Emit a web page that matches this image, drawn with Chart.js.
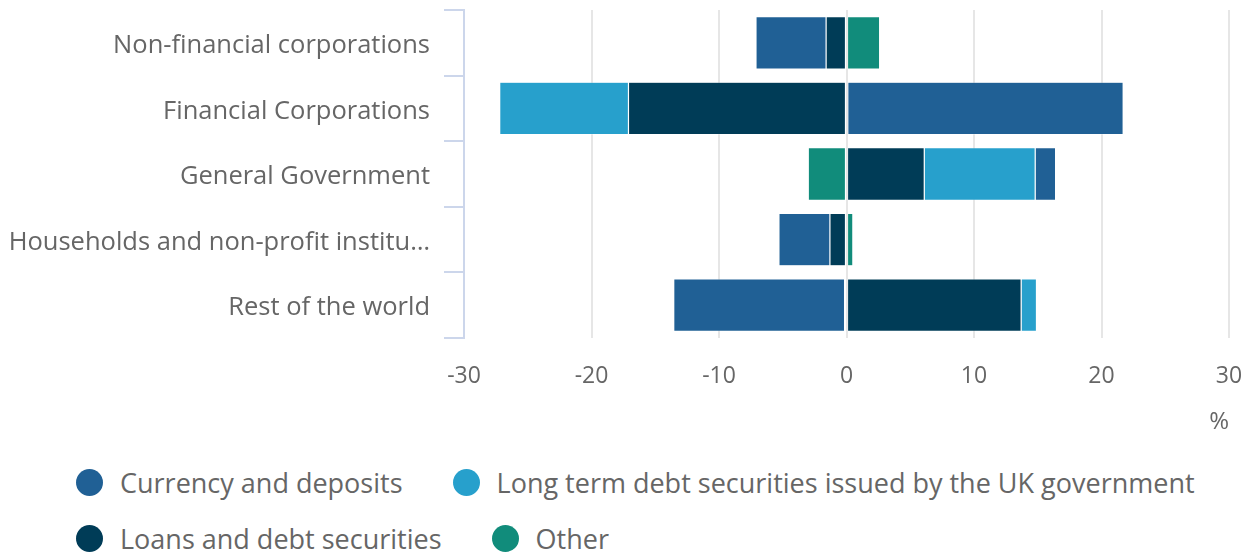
<!DOCTYPE html>
<html>
<head>
<meta charset="utf-8">
<script src="https://cdn.jsdelivr.net/npm/chart.js@4.4.1/dist/chart.umd.min.js"></script>
<style>
  body { margin: 0; background: #fff; font-family: "Open Sans", sans-serif; }
  #wrap { position: relative; width: 1255px; height: 553px; }
  #box { position: absolute; left: 0; top: 0; width: 1255px; height: 445px; }
  #legend { position: absolute; left: 76px; top: 462px; width: 1160px;
    display: flex; flex-wrap: wrap; column-gap: 50px; row-gap: 16px; }
  .item { display: flex; align-items: center; height: 40px; color: #666; font-size: 27px; }
  .dot { width: 27px; height: 27px; border-radius: 50%; margin-right: 17px; }
</style>
</head>
<body>
<div id="wrap">
  <div id="box"><canvas id="chart"></canvas></div>
  <div id="legend"></div>
</div>
<script>
const categories = [
  "Non-financial corporations",
  "Financial Corporations",
  "General Government",
  "Households and non-profit institutions serving households",
  "Rest of the world",
];
const seriesNames = [
  "Currency and deposits",
  "Long term debt securities issued by the UK government",
  "Loans and debt securities",
  "Other",
];
const currency = [-5.5, 21.6, 1.6, -4.0, -13.4];
const longTerm = [0, -10.1, 8.7, 0, 1.2];
const loans = [-1.6, -17.1, 6.1, -1.3, 13.7];
const other = [2.6, 0.1, -3.0, 0.5, -0.15];
const xTicks = [-30, -20, -10, 0, 10, 20, 30];

const colors = ["#206095", "#27a0cc", "#003c57", "#118c7b"];
// stacking order outward from zero: Other, Loans, Long term, Currency
const stackOrder = [4, 3, 2, 1];
const values = [currency, longTerm, loans, other];

const datasets = seriesNames.map((name, i) => ({
  label: name,
  data: values[i],
  backgroundColor: colors[i],
  borderColor: "rgba(255,255,255,0.6)",
  borderWidth: 0.6,
  borderSkipped: false,
  order: stackOrder[i],
  barPercentage: 0.8,
  categoryPercentage: 1,
}));

const ctx = document.querySelector("#chart").getContext("2d");
const myChart = new Chart(ctx, {
  type: "bar",
  data: { labels: categories, datasets: datasets },
  options: {
    indexAxis: "y",
    responsive: true,
    maintainAspectRatio: false,
    animation: false,
    layout: { padding: { top: 10, right: 26, left: 0, bottom: 0 } },
    plugins: { legend: { display: false }, tooltip: { enabled: false } },
    scales: {
      x: {
        stacked: true,
        min: -30,
        max: 30,
        afterBuildTicks: (s) => { s.ticks = xTicks.map((v) => ({ value: v })); },
        afterFit: (s) => {
          s.height = 107;
          s.paddingLeft = 0;
          s.paddingRight = 0;
        },
        grid: { color: "#e6e6e6", lineWidth: 2, drawTicks: false },
        border: { display: false },
        ticks: { color: "#666", padding: 25, font: { family: "Open Sans", size: 23 } },
        title: {
          display: true,
          text: "%",
          align: "end",
          color: "#666",
          padding: { top: 0, bottom: 8 },
          font: { family: "Open Sans", size: 24 },
        },
      },
      y: {
        stacked: true,
        afterFit: (s) => {
          s.width = 464;
          s.paddingTop = 0;
          s.paddingBottom = 0;
        },
        grid: { drawOnChartArea: false, color: "#ccd6eb", lineWidth: 2, tickLength: 20, offset: true },
        border: { display: true, color: "#ccd6eb", width: 2 },
        ticks: {
          color: "#666",
          padding: 14,
          labelOffset: 3,
          font: { family: "Open Sans", size: 25.5 },
          callback: function (v) {
            const l = this.getLabelForValue(v);
            return l.length > 34 ? l.slice(0, 33) + "…" : l;
          },
        },
      },
    },
  },
});

const legend = document.querySelector("#legend");
seriesNames.forEach((name, i) => {
  const item = document.createElement("div");
  item.className = "item";
  item.innerHTML = '<span class="dot" style="background:' + colors[i] + '"></span>' + name;
  legend.appendChild(item);
});
</script>
</body>
</html>
